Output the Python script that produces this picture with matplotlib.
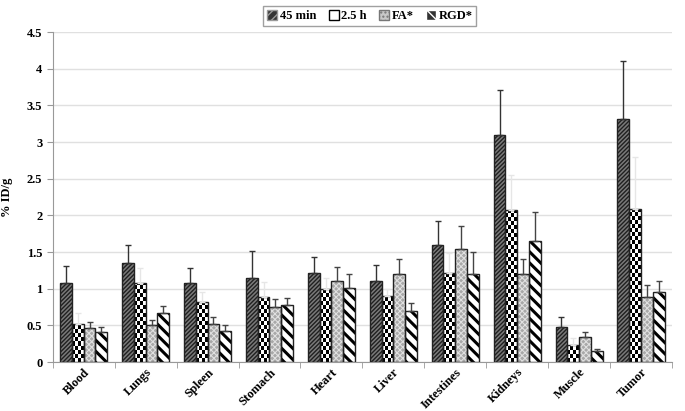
#Biodistribution bar chart (%ID/g per organ) for four groups
#with one-sided error bars and pattern fills

import matplotlib.pyplot as plt
import matplotlib.patches as mpatches
import numpy as np

plt.rcParams['font.family'] = ['Liberation Serif', 'DejaVu Serif']
plt.rcParams['font.weight'] = 'bold'

#data
organs = ['Blood', 'Lungs', 'Spleen', 'Stomach', 'Heart', 'Liver',
          'Intestines', 'Kidneys', 'Muscle', 'Tumor']
groups = ['45 min', '2.5 h', 'FA*', 'RGD*']

min45 = [1.08, 1.35, 1.08, 1.15, 1.22, 1.11, 1.60, 3.10, 0.48, 3.31]
min45_top = [1.31, 1.59, 1.28, 1.51, 1.43, 1.33, 1.93, 3.71, 0.61, 4.10]
h25 = [0.52, 1.08, 0.82, 0.89, 0.99, 0.90, 1.21, 2.07, 0.23, 2.09]
h25_top = [0.67, 1.28, 0.95, 1.09, 1.14, 1.00, 1.49, 2.55, 0.33, 2.80]
fa = [0.46, 0.50, 0.52, 0.75, 1.10, 1.20, 1.54, 1.20, 0.345, 0.89]
fa_top = [0.54, 0.57, 0.62, 0.86, 1.30, 1.40, 1.85, 1.41, 0.41, 1.05]
rgd = [0.41, 0.67, 0.43, 0.78, 1.01, 0.70, 1.20, 1.65, 0.15, 0.955]
rgd_top = [0.48, 0.76, 0.50, 0.88, 1.20, 0.80, 1.50, 2.04, 0.18, 1.10]

values = [min45, h25, fa, rgd]
tops = [min45_top, h25_top, fa_top, rgd_top]

#look of each group: face, hatch, hatch colour, hatch width, error bar colour
faces = ['#7a7a7a', 'white', '#a8a8a8', 'white']
hatches = ['////////', '', 'xxxxxx', '\\\\\\']
hatch_cols = ['#202020', 'black', '#e0e0e0', 'black']
hatch_lw = [1.0, 1.0, 0.8, 2.2]
err_cols = ['#333333', '#e6e6e6', '#444444', '#444444']

fig = plt.figure(figsize=(6.85, 4.11), dpi=100)
ax = fig.add_axes([0.077, 0.119, 0.904, 0.803])

x = np.arange(len(organs))
w = 0.19
ax.set_xlim(-0.5, len(organs) - 0.5)
ax.set_ylim(0, 4.5)

for i in range(4):
    pos = x - 1.5*w + i*w
    v = np.array(values[i])
    err = np.array(tops[i]) - v
    with plt.rc_context({'hatch.linewidth': hatch_lw[i]}):
        bars = ax.bar(pos, v, w, facecolor=faces[i], hatch=hatches[i],
                      edgecolor=hatch_cols[i], linewidth=0, zorder=2)
    for b in bars:
        try:
            b.set_hatch_linewidth(hatch_lw[i])
        except AttributeError:
            pass
    if i == 1:
        #checkerboard fill, clipped to each bar
        sq = 0.055  #square size in y units
        for b in bars:
            bx, by = b.get_x(), b.get_y()
            bw, bh = b.get_width(), b.get_height()
            nrow = max(1, int(np.ceil(bh / sq)))
            chk = (np.add.outer(np.arange(nrow), np.arange(4)) % 2)
            im = ax.imshow(chk, cmap='gray', vmin=0, vmax=1,
                           extent=(bx, bx + bw, by, by + nrow*sq),
                           origin='lower', interpolation='nearest',
                           aspect='auto', zorder=2.5)
            im.set_clip_path(b)
    #outline drawn separately so hatch colour can differ
    ax.bar(pos, v, w, facecolor='none', edgecolor='#222222',
           linewidth=1.0, zorder=3)
    ax.errorbar(pos, v, yerr=[np.zeros_like(err), err], fmt='none',
                ecolor=err_cols[i], elinewidth=1.0, capsize=2.5,
                capthick=1.0, zorder=4)

ax.set_yticks(np.arange(0, 4.51, 0.5))
ax.set_yticklabels(['0', '0.5', '1', '1.5', '2', '2.5', '3', '3.5', '4', '4.5'])
ax.yaxis.grid(True, color='#e0e0e0', linewidth=1.0, zorder=0)
ax.set_axisbelow(True)

ax.set_xticks(x)
ax.set_xticklabels(organs, rotation=45, ha='right', rotation_mode='anchor',
                   fontsize=9, fontweight='bold')
ax.tick_params(axis='x', length=0, pad=3)
ax.set_xticks(np.arange(-0.5, len(organs)), minor=True)
ax.tick_params(axis='x', which='minor', length=4, color='#999999')
ax.tick_params(axis='y', labelsize=9, length=4, color='#999999')

for s in ['top', 'right']:
    ax.spines[s].set_visible(False)
for s in ['left', 'bottom']:
    ax.spines[s].set_color('#999999')

ax.set_ylabel('% ID/g', fontsize=9, fontweight='bold', labelpad=10)

#legend keys: small squares in the same fills
leg_face = ['#333333', 'white', '#c8c8c8', '#333333']
leg_hatch = ['////', '', '....', '\\\\']
leg_hcol = ['#999999', 'black', '#777777', 'white']
leg_handles = []
for i in range(4):
    with plt.rc_context({'hatch.linewidth': 0.8}):
        p = mpatches.Patch(facecolor=leg_face[i], hatch=leg_hatch[i],
                           edgecolor=leg_hcol[i])
    leg_handles.append(p)

leg = fig.legend(leg_handles, groups, loc='upper center',
                 bbox_to_anchor=(0.54, 1.0), ncol=4, fontsize=9,
                 frameon=True, fancybox=False, edgecolor='#888888',
                 handlelength=0.8, handleheight=0.8, handletextpad=0.2,
                 columnspacing=1.0, borderpad=0.3)
for t in leg.get_texts():
    t.set_fontweight('bold')

fig.savefig('out.png', dpi=100)
